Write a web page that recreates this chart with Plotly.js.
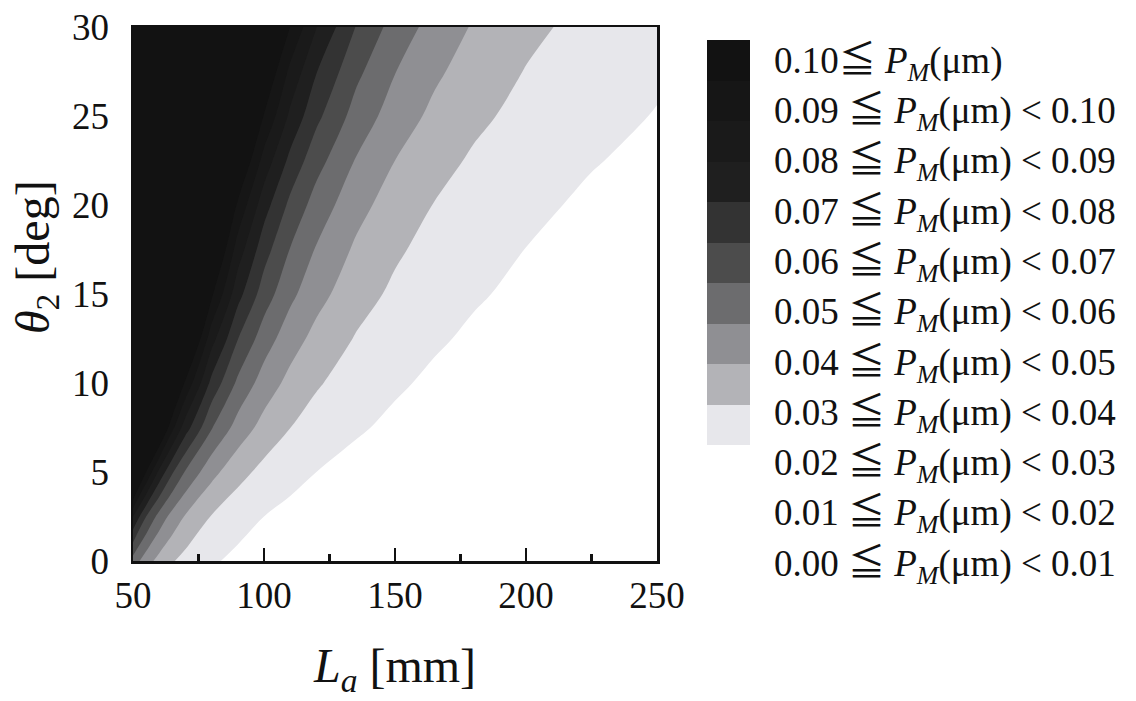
<!DOCTYPE html>
<html><head><meta charset="utf-8">
<script src="https://cdn.plot.ly/plotly-3.0.1.min.js"></script>
<style>html,body{margin:0;padding:0;background:#fff}#chart{width:1136px;height:701px}</style>
</head><body><div id="chart"></div>
<script>
// L_a [mm] grid (columns) and theta_2 [deg] grid (rows)
const La = [50, 55, 60, 65, 70, 80, 90, 100, 110, 120, 135, 150, 165, 180, 200, 225, 250];
const theta2 = [0, 2.5, 5, 7.5, 10, 12.5, 15, 17.5, 20, 22.5, 25, 27.5, 30];
// P_M [um], one row per theta2 value
const PM = [
  [0.0457, 0.0344, 0.0265, 0.0208, 0.0167, 0.0112, 0.0078, 0.0057, 0.0043, 0.0033, 0.0023, 0.0017, 0.0013, 0.0010, 0.0007, 0.0005, 0.0004],
  [0.0800, 0.0601, 0.0463, 0.0364, 0.0292, 0.0195, 0.0137, 0.0100, 0.0075, 0.0058, 0.0041, 0.0030, 0.0022, 0.0017, 0.0013, 0.0009, 0.0006],
  [0.1323, 0.0999, 0.0773, 0.0610, 0.0490, 0.0331, 0.0234, 0.0171, 0.0129, 0.0100, 0.0071, 0.0052, 0.0039, 0.0030, 0.0022, 0.0016, 0.0011],
  [0.1980, 0.1502, 0.1167, 0.0925, 0.0746, 0.0507, 0.0360, 0.0265, 0.0201, 0.0156, 0.0111, 0.0082, 0.0062, 0.0048, 0.0036, 0.0025, 0.0019],
  [0.2561, 0.1952, 0.1523, 0.1212, 0.0982, 0.0671, 0.0480, 0.0355, 0.0271, 0.0211, 0.0151, 0.0112, 0.0085, 0.0067, 0.0049, 0.0035, 0.0026],
  [0.3129, 0.2396, 0.1878, 0.1501, 0.1219, 0.0839, 0.0603, 0.0449, 0.0344, 0.0270, 0.0194, 0.0144, 0.0111, 0.0087, 0.0065, 0.0046, 0.0035],
  [0.3707, 0.2852, 0.2245, 0.1801, 0.1469, 0.1018, 0.0736, 0.0551, 0.0424, 0.0334, 0.0241, 0.0181, 0.0139, 0.0109, 0.0082, 0.0059, 0.0044],
  [0.4166, 0.3221, 0.2547, 0.2051, 0.1679, 0.1171, 0.0852, 0.0641, 0.0496, 0.0392, 0.0285, 0.0215, 0.0166, 0.0131, 0.0099, 0.0072, 0.0054],
  [0.4655, 0.3617, 0.2872, 0.2323, 0.1908, 0.1340, 0.0981, 0.0742, 0.0576, 0.0458, 0.0335, 0.0253, 0.0197, 0.0156, 0.0118, 0.0086, 0.0065],
  [0.5227, 0.4080, 0.3254, 0.2642, 0.2179, 0.1540, 0.1134, 0.0862, 0.0673, 0.0537, 0.0395, 0.0300, 0.0235, 0.0187, 0.0142, 0.0105, 0.0080],
  [0.5814, 0.4560, 0.3653, 0.2978, 0.2465, 0.1754, 0.1299, 0.0993, 0.0779, 0.0624, 0.0462, 0.0353, 0.0277, 0.0222, 0.0170, 0.0126, 0.0096],
  [0.6285, 0.4953, 0.3984, 0.3262, 0.2710, 0.1941, 0.1446, 0.1111, 0.0875, 0.0704, 0.0525, 0.0403, 0.0318, 0.0256, 0.0196, 0.0146, 0.0112],
  [0.7159, 0.5642, 0.4539, 0.3715, 0.3087, 0.2211, 0.1647, 0.1265, 0.0997, 0.0802, 0.0598, 0.0459, 0.0362, 0.0291, 0.0224, 0.0167, 0.0128]
];
const xTicks = [50, 100, 150, 200, 250];
const xMinorTicks = [75, 125, 175, 225];
const yTicks = [0, 5, 10, 15, 20, 25, 30];
// band lower bounds and their grays (0.00 band is white)
const levelLower = [0.00, 0.01, 0.02, 0.03, 0.04, 0.05, 0.06, 0.07, 0.08, 0.09, 0.10];
const bandColors = ['#ffffff', '#e7e7eb', '#b3b3b7', '#8f8f93', '#6c6c6e', '#4c4c4c', '#333333', '#1f1f1f', '#1a1a1a', '#161616', '#121212'];
const legendLabels = [
  '0.10≦ <i>P</i><sub><i>M</i></sub>(μm)',
  '0.09 ≦ <i>P</i><sub><i>M</i></sub>(μm) < 0.10',
  '0.08 ≦ <i>P</i><sub><i>M</i></sub>(μm) < 0.09',
  '0.07 ≦ <i>P</i><sub><i>M</i></sub>(μm) < 0.08',
  '0.06 ≦ <i>P</i><sub><i>M</i></sub>(μm) < 0.07',
  '0.05 ≦ <i>P</i><sub><i>M</i></sub>(μm) < 0.06',
  '0.04 ≦ <i>P</i><sub><i>M</i></sub>(μm) < 0.05',
  '0.03 ≦ <i>P</i><sub><i>M</i></sub>(μm) < 0.04',
  '0.02 ≦ <i>P</i><sub><i>M</i></sub>(μm) < 0.03',
  '0.01 ≦ <i>P</i><sub><i>M</i></sub>(μm) < 0.02',
  '0.00 ≦ <i>P</i><sub><i>M</i></sub>(μm) < 0.01'
];

const W = 1136, H = 701;
const M = {l: 133, r: 10, t: 27, b: 140};
const pw = W - M.l - M.r, ph = H - M.t - M.b;
const px2x = p => (p - M.l) / pw;
const py2y = p => (H - M.b - p) / ph;
const SERIF = "Liberation Serif, Times New Roman, serif";
const SERIF_CJK = "Liberation Serif, Noto Sans CJK JP, serif";

// stepped colorscale: band i sits at position i/10
const nB = bandColors.length - 1;
const cscale = [];
bandColors.forEach((c, i) => {
  cscale.push([Math.max(0, (i - 0.5) / nB), c]);
  cscale.push([Math.min(1, (i + 0.5) / nB), c]);
});

const contour = {
  type: 'contour', x: La, y: theta2, z: PM,
  autocontour: false,
  contours: {start: levelLower[1], end: levelLower[nB], size: levelLower[1] - levelLower[0], coloring: 'fill', showlines: false},
  colorscale: cscale, showscale: false,
  line: {width: 0, smoothing: 1},
  hoverinfo: 'skip', xaxis: 'x', yaxis: 'y'
};

const barLevels = levelLower.slice(1);
const colorbar = {
  type: 'heatmap', x: [0], y: barLevels, z: barLevels.map(v => [v]),
  colorscale: cscale, zmin: levelLower[0], zmax: levelLower[nB],
  showscale: false, hoverinfo: 'skip', xaxis: 'x2', yaxis: 'y2'
};

const annotations = legendLabels.map((t, k) => ({
  xref: 'paper', yref: 'paper', x: px2x(772), y: py2y(63.5 + 50.25 * k),
  xanchor: 'left', yanchor: 'middle', align: 'left', showarrow: false,
  text: t, font: {family: SERIF_CJK, size: 37, color: '#111'}
}));
annotations.push({
  xref: 'paper', yref: 'paper', x: px2x(36), y: py2y(257),
  xanchor: 'center', yanchor: 'middle', showarrow: false, textangle: -90,
  text: '<i>θ</i><sub>2</sub> [deg]', font: {family: SERIF, size: 48, color: '#111'}
});

const layout = {
  width: W, height: H, margin: M,
  paper_bgcolor: '#ffffff', plot_bgcolor: '#ffffff',
  showlegend: false,
  xaxis: {
    domain: [0, px2x(657)], range: [La[0], La[La.length - 1]],
    tickmode: 'array', tickvals: xTicks, ticktext: xTicks.map(String),
    ticks: 'inside', ticklen: 13, tickwidth: 2.5, tickcolor: '#111',
    minor: {tickmode: 'array', tickvals: xMinorTicks, ticks: 'inside', ticklen: 7, tickwidth: 2.5, tickcolor: '#111', showgrid: false},
    showline: true, linecolor: '#111', linewidth: 2.5, mirror: true,
    showgrid: false, zeroline: false, ticklabelstandoff: 0,
    tickfont: {family: SERIF, size: 37, color: '#111'},
    title: {text: '<i>L</i><sub><i>a</i></sub> [mm]', font: {family: SERIF, size: 48, color: '#111'}, standoff: 34}
  },
  yaxis: {
    domain: [0, 1], range: [theta2[0], theta2[theta2.length - 1]],
    tickmode: 'array', tickvals: yTicks, ticktext: yTicks.map(String),
    ticks: '', showline: true, linecolor: '#111', linewidth: 2.5, mirror: true,
    showgrid: false, zeroline: false, ticklabelstandoff: 14,
    tickfont: {family: SERIF, size: 37, color: '#111'}
  },
  xaxis2: {domain: [px2x(707), px2x(750)], range: [-0.5, 0.5], visible: false, anchor: 'y2', fixedrange: true},
  yaxis2: {domain: [py2y(445), py2y(40)], range: [levelLower[0] + 0.005, levelLower[nB] + 0.005], visible: false, anchor: 'x2', fixedrange: true},
  annotations: annotations
};

Plotly.newPlot('chart', [contour, colorbar], layout, {staticPlot: true, displayModeBar: false});
</script></body></html>
